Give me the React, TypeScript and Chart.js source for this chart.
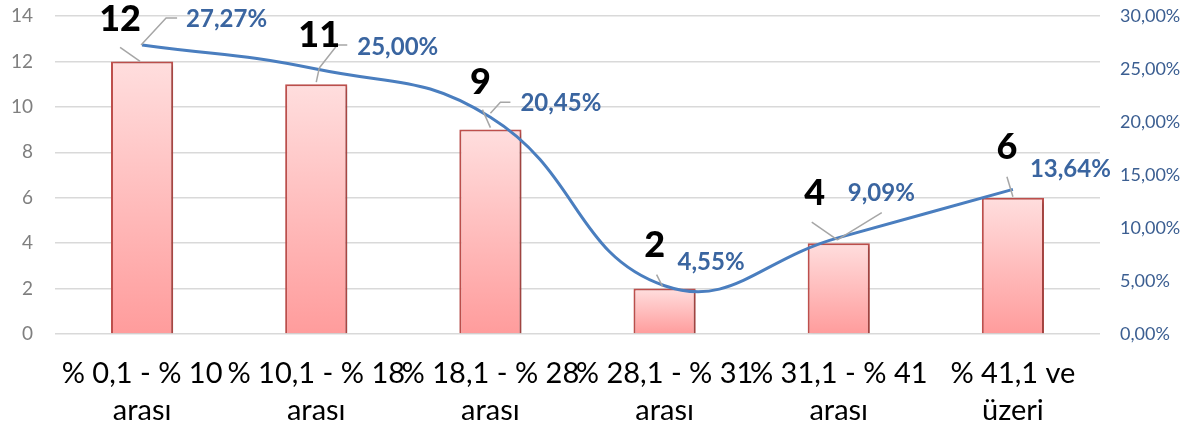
import React, { useEffect, useRef } from 'react';
import { Chart, registerables } from 'chart.js';

Chart.register(...registerables);

const categories: string[][] = [
  ['% 0,1 - % 10', 'arası'],
  ['% 10,1 - % 18', 'arası'],
  ['% 18,1 - % 28', 'arası'],
  ['% 28,1 - % 31', 'arası'],
  ['% 31,1 - % 41', 'arası'],
  ['% 41,1 ve', 'üzeri'],
];
const counts: number[] = [12, 11, 9, 2, 4, 6];
const percents: number[] = [27.27, 25.0, 20.45, 4.55, 9.09, 13.64];

const leftMax = 14;
const leftStep = 2;
const rightMax = 30;
const rightStep = 5;

const fmtPct = (v: number) => v.toFixed(2).replace('.', ',') + '%';

// label placement (styling only)
const barLabelOffsets = [[-22, -42], [3, -49], [-10, -47], [-10, -43], [-24, -50], [-6, -50]];
const barLeaders = [
  [[-2, 0], [-22, -14]],
  [[0, -2], [3, -16]],
  [[0, -2], [-8, -20]],
  [[-2, -2], [-8, -14]],
  [[-1, -3], [-27, -21]],
  [[0, -1], [-6, -21]],
];
const lineLabelOffsets = [[44, -26], [41, -22], [30, -14], [13, -24], [9, -44], [17, -20]];
const lineLeaders = [
  [[-1, 0], [24, -27], [35, -27]],
  [[3, -1], [21, -24], [31, -24]],
  [[0, -4], [10, -15], [20, -15]],
  [],
  [[-1, 2], [43, -25]],
  [],
];

const FONT = 'Lato, "Noto Sans", sans-serif';

const labelPlugin = {
  id: 'customLabels',
  afterDatasetsDraw(chart: any) {
    const ctx = chart.ctx;
    const barMeta = chart.getDatasetMeta(1);
    const lineMeta = chart.getDatasetMeta(0);
    ctx.save();
    ctx.strokeStyle = '#A6A6A6';
    ctx.lineWidth = 1.5;
    barMeta.data.forEach((el: any, i: number) => {
      const seg = barLeaders[i];
      ctx.beginPath();
      ctx.moveTo(el.x + seg[0][0], el.y + seg[0][1]);
      for (let k = 1; k < seg.length; k++) ctx.lineTo(el.x + seg[k][0], el.y + seg[k][1]);
      ctx.stroke();
    });
    lineMeta.data.forEach((el: any, i: number) => {
      const seg = lineLeaders[i];
      if (!seg.length) return;
      ctx.beginPath();
      ctx.moveTo(el.x + seg[0][0], el.y + seg[0][1]);
      for (let k = 1; k < seg.length; k++) ctx.lineTo(el.x + seg[k][0], el.y + seg[k][1]);
      ctx.stroke();
    });
    ctx.fillStyle = '#000000';
    ctx.font = `900 36px ${FONT}`;
    ctx.textAlign = 'center';
    ctx.textBaseline = 'middle';
    barMeta.data.forEach((el: any, i: number) => {
      const o = barLabelOffsets[i];
      ctx.fillText(String(counts[i]), el.x + o[0], el.y + o[1]);
    });
    ctx.fillStyle = '#3A65A0';
    ctx.font = `bold 24px ${FONT}`;
    ctx.textAlign = 'left';
    lineMeta.data.forEach((el: any, i: number) => {
      const o = lineLabelOffsets[i];
      ctx.fillText(fmtPct(percents[i]), el.x + o[0], el.y + o[1]);
    });
    ctx.restore();
  },
};

const shadowPlugin = {
  id: 'barShadow',
  beforeDatasetDraw(chart: any, args: any) {
    if (args.index !== 1) return;
    const ctx = chart.ctx;
    ctx.save();
    ctx.shadowColor = 'rgba(0,0,0,0.22)';
    ctx.shadowBlur = 4;
    ctx.shadowOffsetX = 2;
    ctx.shadowOffsetY = 2;
  },
  afterDatasetDraw(chart: any, args: any) {
    if (args.index !== 1) return;
    chart.ctx.restore();
  },
};

export default function App() {
  const ref = useRef<HTMLCanvasElement | null>(null);
  useEffect(() => {
    if (!ref.current) return;
    Chart.defaults.font.family = FONT;
    const chart = new Chart(ref.current, {
      type: 'bar',
      data: {
        labels: categories,
        datasets: [
          {
            type: 'line',
            data: percents,
            yAxisID: 'y1',
            borderColor: '#4A7EBF',
            borderWidth: 3,
            pointRadius: 0,
            tension: 0.45,
            fill: false,
            order: 0,
          } as any,
          {
            type: 'bar',
            data: counts,
            yAxisID: 'y',
            order: 1,
            borderColor: '#C0504D',
            borderWidth: 2,
            categoryPercentage: 1,
            barPercentage: 0.357,
            backgroundColor: (c: any) => {
              const chart = c.chart;
              const ys = chart.scales.y;
              if (!chart.chartArea || !ys || c.dataIndex === undefined) return '#FFB0B0';
              const top = ys.getPixelForValue(counts[c.dataIndex]);
              const bottom = ys.getPixelForValue(0);
              if (!isFinite(top) || !isFinite(bottom) || top === bottom) return '#FFB0B0';
              const g = chart.ctx.createLinearGradient(0, top, 0, bottom);
              g.addColorStop(0, '#FFDEDE');
              g.addColorStop(1, '#FF9C9C');
              return g;
            },
          } as any,
        ],
      },
      options: {
        animation: false,
        responsive: false,
        layout: { padding: { top: 16, left: 0, right: 0, bottom: 0 } },
        plugins: {
          legend: { display: false },
          tooltip: { enabled: false },
        },
        scales: {
          x: {
            grid: { display: false, drawTicks: false },
            border: { display: false },
            ticks: {
              autoSkip: false,
              maxRotation: 0,
              minRotation: 0,
              padding: 21,
              color: '#000000',
              font: { size: 29, lineHeight: 1.28, family: FONT },
            },
            afterFit: (s: any) => { s.height = 100; },
          },
          y: {
            position: 'left',
            min: 0,
            max: leftMax,
            ticks: {
              stepSize: leftStep,
              padding: 22,
              color: '#7F7F7F',
              font: { size: 19, family: FONT },
            },
            grid: { color: '#D9D9D9', lineWidth: 1.5, drawTicks: false },
            border: { display: false },
            afterFit: (s: any) => { s.width = 55; s.paddingTop = 16; s.paddingBottom = 0; },
          },
          y1: {
            position: 'right',
            min: 0,
            max: rightMax,
            ticks: {
              stepSize: rightStep,
              padding: 20,
              color: '#3B5E91',
              font: { size: 18, family: FONT },
              callback: (v: any) => fmtPct(Number(v)),
            },
            grid: { display: false, drawTicks: false },
            border: { display: false },
            afterFit: (s: any) => { s.width = 93; s.paddingTop = 16; s.paddingBottom = 0; },
          },
        },
      },
      plugins: [shadowPlugin, labelPlugin],
    });
    return () => chart.destroy();
  }, []);
  return (
    <div style={{ position: 'absolute', left: 0, top: 0, width: 1193, height: 434, background: '#fff' }}>
      <canvas ref={ref} width={1193} height={434} />
    </div>
  );
}
